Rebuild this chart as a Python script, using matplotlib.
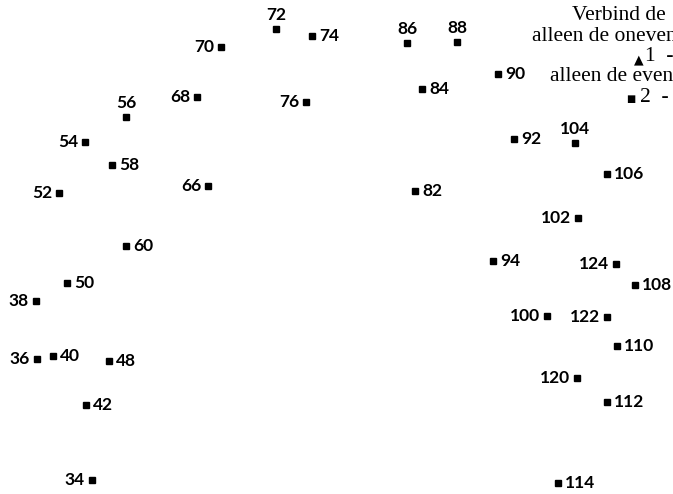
import matplotlib.pyplot as plt

# dot positions (pixel coords in the picture) and their numbers
numbers = [34, 36, 38, 40, 42, 48, 50, 52, 54, 56, 58, 60, 66, 68, 70, 72, 74, 76,
           82, 84, 86, 88, 90, 92, 94, 100, 102, 104, 106, 108, 110, 112, 114,
           120, 122, 124]
xs = [92, 37, 36, 53, 86, 109, 67, 59, 85, 126, 112, 126, 208, 197, 221, 276, 312, 306,
      415, 422, 407, 457, 498, 514, 493, 547, 578, 575, 607, 635, 617, 607, 558,
      577, 607, 616]
ys = [480, 359, 301, 356, 405, 361, 283, 193, 142, 117, 165, 246, 186, 97, 47, 29, 36, 102,
      191, 89, 43, 42, 74, 139, 261, 316, 218, 143, 174, 285, 346, 402, 483,
      378, 317, 264]
# where the number sits: l = left, r = right, t = top
sides = ['l', 'l', 'l', 'r', 'r', 'r', 'r', 'l', 'l', 't', 'r', 'r', 'l', 'l', 'l', 't', 'r', 'l',
         'r', 'r', 't', 't', 'r', 'r', 'r', 'l', 'l', 't', 'r', 'r', 'r', 'r', 'r',
         'l', 'l', 'l']

legend_lines = ["Verbind de", "alleen de oneven", "1  -", "alleen de even", "2  -"]

fig = plt.figure(figsize=(6.73, 4.94), dpi=100)
ax = fig.add_axes([0, 0, 1, 1])
ax.set_xlim(0, 673)
ax.set_ylim(494, 0)
ax.axis("off")

ax.plot(xs, ys, linestyle="none", marker="s", markersize=5, color="black")

for n, x, y, s in zip(numbers, xs, ys, sides):
    if s == 'l':
        ax.text(x - 7, y + 5, str(n), ha="right", va="baseline",
                fontsize=12.5, family="Lato", weight="bold")
    elif s == 'r':
        ax.text(x + 7, y + 5, str(n), ha="left", va="baseline",
                fontsize=12.5, family="Lato", weight="bold")
    else:
        ax.text(x, y - 9, str(n), ha="center", va="baseline",
                fontsize=12.5, family="Lato", weight="bold")

# legend text at top right (runs off the edge)
serif = "Liberation Serif"
ax.text(572, 20, legend_lines[0], fontsize=15.5, family=serif, va="baseline")
ax.text(532, 41, legend_lines[1], fontsize=15.5, family=serif, va="baseline")
ax.text(639, 63, "▲", fontsize=9, family="DejaVu Sans", ha="center", va="baseline")
ax.text(645, 61, legend_lines[2], fontsize=15.5, family=serif, va="baseline")
ax.text(550, 81, legend_lines[3], fontsize=15.5, family=serif, va="baseline")
ax.text(631, 102, "■", fontsize=7, family="DejaVu Sans", ha="center", va="baseline")
ax.text(640, 102, legend_lines[4], fontsize=15.5, family=serif, va="baseline")

fig.savefig("out.png", dpi=100)
